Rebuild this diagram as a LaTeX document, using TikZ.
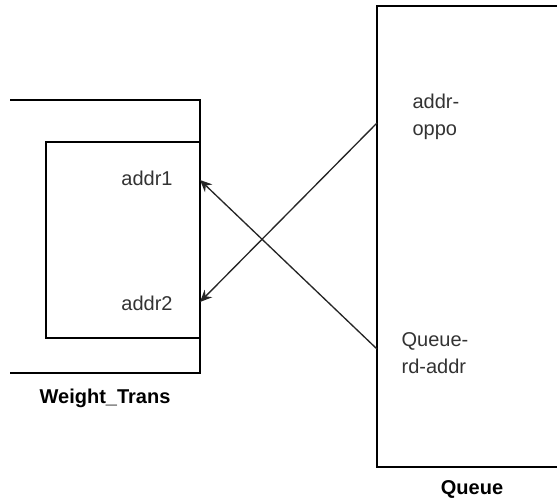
\documentclass[tikz,border=0pt]{standalone}
\usepackage{fontspec}
\setmainfont{Liberation Sans}
\usetikzlibrary{arrows.meta}
\begin{document}
\begin{tikzpicture}[x=0.75pt,y=-0.75pt,
  line width=0.9pt,
  lbl/.style={font=\fontsize{15}{20}\selectfont, text=black!80, inner sep=0pt, align=left},
  title/.style={font=\fontsize{15}{20}\selectfont\bfseries, inner sep=0pt},
  arr/.style={-{Stealth[length=9pt,width=8pt,inset=3pt]}, line width=1pt, draw=black!85}]
\path[use as bounding box] (0,0) rectangle (557,500);
\clip (0,0) rectangle (557,500);

% Weight_Trans: open outer frame and inner box
\draw (10,100) -- (200,100) -- (200,373) -- (10,373);
\node[draw, minimum width=154*0.75pt, minimum height=196*0.75pt, inner sep=0pt] (wt) at (123,240) {};
\node[lbl] (a1) at (147,178) {addr1};
\node[lbl] (a2) at (147,303) {addr2};
\node[title] (wtl) at (105,398) {Weight\_Trans};

% Queue block (extends past the right edge)
\node[draw, minimum width=190*0.75pt, minimum height=461*0.75pt, inner sep=0pt] (q) at (472,236.5) {};
\node[lbl, anchor=west] (qo) at (412,117) {addr-\\oppo};
\node[lbl, anchor=west] (qr) at (401,353) {Queue-\\rd-addr};
\node[title] (ql) at (472,489) {Queue};

% Port points on the block edges
\coordinate (qoppo) at (377,123);
\coordinate (qrd) at (377,349);
\coordinate (p1) at (200,180);
\coordinate (p2) at (200,302);

\draw[arr] (qoppo) -- (p2);
\draw[arr] (qrd) -- (p1);
\end{tikzpicture}
\end{document}
